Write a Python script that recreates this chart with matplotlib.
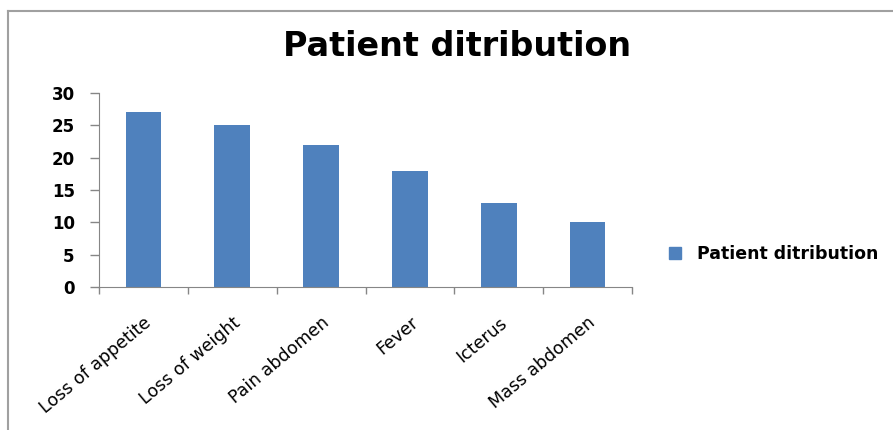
import matplotlib
matplotlib.use("Agg")
import matplotlib.pyplot as plt
from matplotlib.lines import Line2D

categories = ["Loss of appetite", "Loss of weight", "Pain abdomen", "Fever", "Icterus", "Mass abdomen"]
patients = [27, 25, 22, 18, 13, 10]
series_name = "Patient ditribution"
y_ticks = [0, 5, 10, 15, 20, 25, 30]

plt.rcParams["font.family"] = ["DejaVu Sans"]

fig = plt.figure(figsize=(8.93, 4.3), dpi=100)
ax = fig.add_axes([99 / 893, 1 - 287 / 430, 533 / 893, 194 / 430])

x = list(range(len(categories)))
ax.bar(x, patients, width=0.4, color="#4F81BD", label=series_name)

ax.set_xlim(-0.5, len(categories) - 0.5)
ax.set_ylim(0, 30)
ax.set_yticks(y_ticks)
ax.set_yticklabels([str(v) for v in y_ticks], fontsize=12, fontweight="bold")

# category boundaries carry the ticks, labels sit under the bars
ax.set_xticks([i - 0.5 for i in range(len(categories) + 1)])
ax.set_xticklabels([])
ax.set_xticks(x, minor=True)
ax.set_xticklabels(categories, minor=True, rotation=40, ha="right",
                   rotation_mode="anchor", fontsize=12.5)
ax.tick_params(axis="x", which="minor", length=0, pad=19)
ax.tick_params(axis="x", which="major", length=5, color="#868686", width=1)
ax.tick_params(axis="y", length=6.5, color="#868686", width=1, pad=11)

for side in ["top", "right"]:
    ax.spines[side].set_visible(False)
for side in ["left", "bottom"]:
    ax.spines[side].set_color("#868686")

fig.text(457 / 893, 1 - 47 / 430, "Patient ditribution", ha="center", va="center",
         fontsize=24, fontweight="bold")

fig.legend(handles=[Line2D([], [], marker="s", color="#4F81BD", linestyle="none", markersize=9)],
           labels=[series_name], loc="center left", bbox_to_anchor=(642 / 893, 1 - 254 / 430),
           frameon=False, prop={"size": 12.5, "weight": "bold"}, handletextpad=0.25)

# chart frame (only top and left edges fall inside the picture)
fig.add_artist(Line2D([8 / 893, 8 / 893], [0, 1 - 11 / 430], transform=fig.transFigure,
                      color="#A0A0A0", linewidth=1.5))
fig.add_artist(Line2D([8 / 893, 1], [1 - 11 / 430, 1 - 11 / 430], transform=fig.transFigure,
                      color="#A0A0A0", linewidth=1.5))

fig.savefig("out.png", dpi=100)
